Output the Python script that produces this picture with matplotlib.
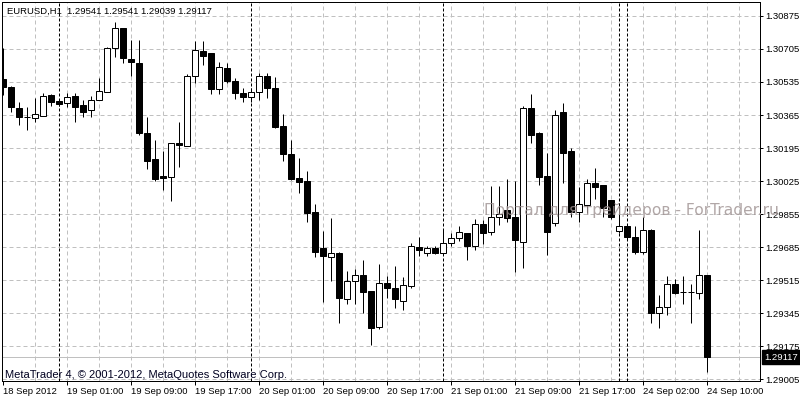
import matplotlib
matplotlib.use('Agg')
import matplotlib.pyplot as plt
from matplotlib.patches import Rectangle

opens = [1.30550, 1.30509, 1.30401, 1.30355, 1.30350, 1.30360, 1.30468, 1.30437, 1.30427, 1.30463,
         1.30417, 1.30391, 1.30442, 1.30483, 1.30710, 1.30813, 1.30653, 1.30633, 1.30272, 1.30138,
         1.30051, 1.30046, 1.30221, 1.30205, 1.30566, 1.30695, 1.30684, 1.30499, 1.30607, 1.30540,
         1.30478, 1.30458, 1.30483, 1.30566, 1.30504, 1.30308, 1.30164, 1.30041, 1.30025, 1.29865,
         1.29680, 1.29633, 1.29654, 1.29417, 1.29510, 1.29541, 1.29458, 1.29273, 1.29500, 1.29474,
         1.29407, 1.29484, 1.29685, 1.29654, 1.29680, 1.29654, 1.29706, 1.29731, 1.29757, 1.29690,
         1.29803, 1.29762, 1.29840, 1.29876, 1.29840, 1.29711, 1.30401, 1.30272, 1.30051, 1.29809,
         1.30380, 1.30180, 1.29865, 1.29901, 1.30015, 1.30004, 1.29927, 1.29767, 1.29793, 1.29737,
         1.29659, 1.29773, 1.29345, 1.29376, 1.29494, 1.29453, 1.29453, 1.29448, 1.29541]
highs = [1.30710, 1.30514, 1.30432, 1.30406, 1.30453, 1.30478, 1.30473, 1.30447, 1.30478, 1.30478,
         1.30442, 1.30463, 1.30556, 1.30715, 1.30844, 1.30813, 1.30751, 1.30751, 1.30355, 1.30236,
         1.30180, 1.30221, 1.30329, 1.30576, 1.30746, 1.30746, 1.30684, 1.30638, 1.30633, 1.30556,
         1.30504, 1.30504, 1.30581, 1.30581, 1.30561, 1.30370, 1.30236, 1.30143, 1.30077, 1.29907,
         1.29767, 1.29834, 1.29659, 1.29561, 1.29572, 1.29618, 1.29458, 1.29597, 1.29536, 1.29587,
         1.29531, 1.29706, 1.29737, 1.29690, 1.29690, 1.29773, 1.29757, 1.29793, 1.29757, 1.29829,
         1.29824, 1.29999, 1.29999, 1.30035, 1.30025, 1.30411, 1.30473, 1.30277, 1.30169, 1.30391,
         1.30427, 1.30195, 1.29994, 1.30035, 1.30092, 1.30004, 1.29927, 1.29912, 1.29793, 1.29793,
         1.29840, 1.29778, 1.29438, 1.29536, 1.29520, 1.29536, 1.29494, 1.29773, 1.29541]
lows = [1.30468, 1.30380, 1.30313, 1.30288, 1.30329, 1.30360, 1.30411, 1.30411, 1.30406, 1.30329,
        1.30355, 1.30355, 1.30442, 1.30483, 1.30664, 1.30633, 1.30566, 1.30262, 1.30087, 1.30025,
        1.29979, 1.29922, 1.30097, 1.30205, 1.30530, 1.30623, 1.30473, 1.30473, 1.30530, 1.30447,
        1.30432, 1.30432, 1.30442, 1.30453, 1.30298, 1.30128, 1.30030, 1.29963, 1.29814, 1.29633,
        1.29402, 1.29510, 1.29294, 1.29391, 1.29391, 1.29345, 1.29180, 1.29263, 1.29422, 1.29371,
        1.29361, 1.29474, 1.29639, 1.29639, 1.29649, 1.29649, 1.29690, 1.29716, 1.29618, 1.29670,
        1.29700, 1.29747, 1.29798, 1.29814, 1.29556, 1.29577, 1.30221, 1.30004, 1.29644, 1.29793,
        1.30015, 1.29840, 1.29814, 1.29860, 1.29932, 1.29840, 1.29829, 1.29757, 1.29721, 1.29649,
        1.29649, 1.29294, 1.29268, 1.29335, 1.29443, 1.29391, 1.29294, 1.29417, 1.29039]
closes = [1.30509, 1.30406, 1.30355, 1.30355, 1.30370, 1.30463, 1.30432, 1.30422, 1.30458, 1.30406,
          1.30380, 1.30442, 1.30489, 1.30710, 1.30813, 1.30659, 1.30638, 1.30272, 1.30128, 1.30035,
          1.30041, 1.30221, 1.30210, 1.30566, 1.30700, 1.30669, 1.30499, 1.30612, 1.30540, 1.30478,
          1.30458, 1.30483, 1.30566, 1.30504, 1.30303, 1.30164, 1.30035, 1.30020, 1.29860, 1.29659,
          1.29639, 1.29654, 1.29422, 1.29510, 1.29541, 1.29453, 1.29268, 1.29500, 1.29474, 1.29417,
          1.29489, 1.29690, 1.29670, 1.29680, 1.29654, 1.29706, 1.29731, 1.29762, 1.29690, 1.29803,
          1.29757, 1.29840, 1.29855, 1.29834, 1.29721, 1.30401, 1.30262, 1.30046, 1.29762, 1.30365,
          1.30169, 1.29865, 1.29907, 1.30015, 1.29994, 1.29886, 1.29840, 1.29793, 1.29737, 1.29659,
          1.29773, 1.29345, 1.29376, 1.29494, 1.29448, 1.29453, 1.29453, 1.29541, 1.29117]

time_tick_idx = [0, 8, 16, 24, 32, 40, 48, 56, 64, 72, 80, 88]
time_tick_labels = ['18 Sep 2012', '19 Sep 01:00', '19 Sep 09:00', '19 Sep 17:00',
                    '20 Sep 01:00', '20 Sep 09:00', '20 Sep 17:00', '21 Sep 01:00',
                    '21 Sep 09:00', '21 Sep 17:00', '24 Sep 02:00', '24 Sep 10:00']
price_ticks = [1.30875, 1.30705, 1.30535, 1.30365, 1.30195, 1.30025,
               1.29855, 1.29685, 1.29515, 1.29345, 1.29175, 1.29005]
grid_idx = list(range(4, 93, 4))
day_separators = [7, 31, 55, 77, 78]
bid_price = 1.29117
header = 'EURUSD,H1  1.29541 1.29541 1.29039 1.29117'
copyright_text = 'MetaTrader 4, \u00a9 2001-2012, MetaQuotes Software Corp.'
watermark = 'Портал для трейдеров - ForTrader.ru'

plt.rcParams['lines.scale_dashes'] = False
plt.rcParams['font.family'] = ['Liberation Sans', 'DejaVu Sans']

W, H = 800, 400
fig = plt.figure(figsize=(8, 4), dpi=100)
ax = fig.add_axes([2 / W, 19 / H, 758 / W, 379 / H])
ax.set_xlim(-0.125, 94.625)
ax.set_ylim(1.28995, 1.30947)

px = 0.72  # one pixel in points
for g in grid_idx:
    ax.axvline(g, color='#c0c0c0', lw=px, dashes=(4 * px, 3 * px), zorder=1)
for p in price_ticks:
    ax.axhline(p, color='#c0c0c0', lw=px, dashes=(4 * px, 3 * px), zorder=1)
for s in day_separators:
    ax.axvline(s, color='black', lw=px, dashes=(3 * px, 2 * px), zorder=1.5)
ax.axhline(bid_price, color='#c0c0c0', lw=px, zorder=1.2)

bw = 0.65
for i, (o, h, l, c) in enumerate(zip(opens, highs, lows, closes)):
    ax.plot([i, i], [l, h], color='black', lw=px, zorder=2, solid_capstyle='butt')
    bull = c >= o
    ax.add_patch(Rectangle((i - bw / 2, min(o, c)), bw, abs(c - o),
                           facecolor='white' if bull else 'black',
                           edgecolor='black', lw=px, zorder=3))

ax.text(482 / 758, 1.29873, watermark, transform=ax.get_yaxis_transform(),
        fontsize=11.2, family=['DejaVu Sans'], color=(0.62, 0.57, 0.57), alpha=0.8,
        va='center', ha='left', zorder=4, clip_on=False)

for sp in ax.spines.values():
    sp.set_linewidth(px)
    sp.set_color('black')

ax.set_xticks(time_tick_idx)
ax.set_xticklabels(time_tick_labels, fontsize=6.8)
for lbl in ax.get_xticklabels():
    lbl.set_horizontalalignment('left')
ax.tick_params(axis='x', direction='out', length=4 * px, width=px, pad=1.5)

ax.yaxis.tick_right()
ax.set_yticks(price_ticks)
ax.set_yticklabels([f'{p:.5f}' for p in price_ticks], fontsize=6.8)
ax.tick_params(axis='y', direction='out', length=3 * px, width=px, pad=1.5)

ax.annotate(f'{bid_price:.5f}', xy=(1.0, bid_price), xycoords=('axes fraction', 'data'),
            xytext=(4, 0), textcoords='offset pixels', ha='left', va='center',
            fontsize=6.8, color='white', annotation_clip=False, zorder=6,
            bbox=dict(boxstyle='square,pad=0.25', fc='black', ec='black'))

ax.text(5 / 758, 1 - 9 / 379, header, transform=ax.transAxes, fontsize=6.8,
        color='black', va='center', ha='left', zorder=6)
ax.text(3 / 758, 6 / 379, copyright_text, transform=ax.transAxes, fontsize=8,
        color='#000020', va='center', ha='left', zorder=6)

fig.savefig('out.png', dpi=100)
